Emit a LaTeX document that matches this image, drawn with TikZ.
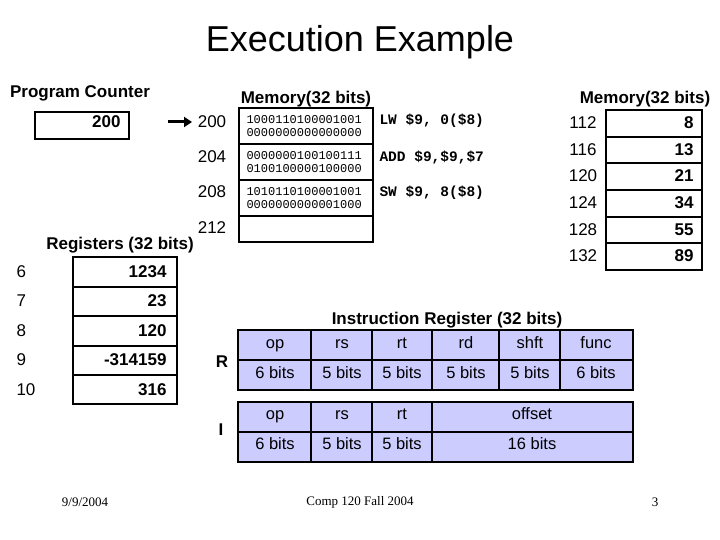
\documentclass[tikz,border=0pt]{standalone}
\usepackage{fontspec}
\setmainfont{Liberation Sans}
\newfontfamily\mono{Liberation Mono}
\newfontfamily\tms{Liberation Serif}
\usetikzlibrary{arrows.meta}
\definecolor{lav}{RGB}{204,204,255}
\tikzset{
 bx/.style={draw,line width=1.8pt},
 hd/.style={font=\fontsize{17}{19}\selectfont\bfseries},
 lab/.style={font=\fontsize{17}{19}\selectfont},
 val/.style={font=\fontsize{17}{19}\selectfont\bfseries,anchor=east},
 bin/.style={font=\mono\fontsize{12}{13.5}\selectfont,align=left,anchor=west},
 ins/.style={font=\mono\fontsize{14.5}{16}\selectfont\bfseries,anchor=west},
 irt/.style={font=\fontsize{16.5}{18}\selectfont,text height=12pt,text depth=3pt},
 ft/.style={font=\tms\fontsize{13}{15}\selectfont}
}
\begin{document}
\begin{tikzpicture}[x=1pt,y=-1pt]
\useasboundingbox (0,0) rectangle (720,540);
\node (title) at (360,42) {\fontsize{36}{40}\selectfont Execution Example};
% Program counter
\node[hd] (pct) at (80,93) {Program Counter};
\draw[bx] (35,112) rectangle (129,139);
\node[val] (pcv) at (124,122) {200};
\coordinate (arA) at (168,122);
\coordinate (arB) at (192,122);
\draw[line width=3pt,-{Triangle[length=8pt,width=10pt]}] (arA) -- (arB);
% Left memory
\node[hd] (mt1) at (306,99) {Memory(32 bits)};
\draw[bx] (239,108) rectangle (373,242);
\foreach \y in {144,180,216} \draw[bx] (239,\y) -- (373,\y);
\foreach \a/\y in {200/122,204/157,208/192,212/228} \node[lab] (ad\a) at (212,\y) {\a};
\node[bin] (b1) at (243,126) {1000110100001001\\0000000000000000};
\node[bin] (b2) at (243,162) {0000000100100111\\0100100000100000};
\node[bin] (b3) at (243,198) {1010110100001001\\0000000000001000};
\node[ins] (i1) at (376,121) {LW \$9, 0(\$8)};
\node[ins] (i2) at (376,157) {ADD \$9,\$9,\$7};
\node[ins] (i3) at (376,193) {SW \$9, 8(\$8)};
% Right memory
\node[hd] (mt2) at (645,99) {Memory(32 bits)};
\draw[bx] (606,110) rectangle (702,270);
\foreach \y in {137,163,190,217,243} \draw[bx] (606,\y) -- (702,\y);
\foreach \a/\v/\y in {112/8/123,116/13/150,120/21/176,124/34/203,128/55/230,132/89/256}{
 \node[lab] (ra\a) at (583,\y) {\a};
 \node[val] (rv\a) at (697,\y) {\v};
}
% Registers
\node[hd] (rt) at (120,245) {Registers (32 bits)};
\draw[bx] (73,257) rectangle (177,404);
\foreach \y in {287,316,346,375} \draw[bx] (73,\y) -- (177,\y);
\foreach \r/\v/\y in {6/1234/272,7/23/301,8/120/331,9/-314159/360,10/316/390}{
 \node[lab,anchor=west] (rl\r) at (13,\y) {\r};
 \node[val] (rr\r) at (170,\y) {\v};
}
% Instruction register
\node[hd] (irt) at (447,320) {Instruction Register (32 bits)};
\draw[bx,fill=lav] (238,330) rectangle (633,390);
\draw[bx] (238,360) -- (633,360);
\foreach \x in {311,372,432,499,560} \draw[bx] (\x,330) -- (\x,390);
\draw[bx,fill=lav] (238,402) rectangle (633,462);
\draw[bx] (238,432) -- (633,432);
\foreach \x in {311,372,432} \draw[bx] (\x,402) -- (\x,462);
\node[hd] (rlab) at (222,362) {R};
\node[hd] (ilab) at (221,430) {I};
\foreach \n/\x/\t/\b in {a/275/op/6 bits,b/342/rs/5 bits,c/402/rt/5 bits,d/466/rd/5 bits,e/530/shft/5 bits,f/596/func/6 bits}{
 \node[irt] (rt\n) at (\x,344) {\t};
 \node[irt] (rb\n) at (\x,374) {\b};
}
\foreach \n/\x/\t/\b in {a/275/op/6 bits,b/342/rs/5 bits,c/402/rt/5 bits,d/532/offset/16 bits}{
 \node[irt] (it\n) at (\x,415) {\t};
 \node[irt] (ib\n) at (\x,445) {\b};
}
% footer
\node[ft] (f1) at (85,502) {9/9/2004};
\node[ft] (f2) at (360,502) {Comp 120 Fall 2004};
\node[ft] (f3) at (655,502) {3};
\end{tikzpicture}
\end{document}
